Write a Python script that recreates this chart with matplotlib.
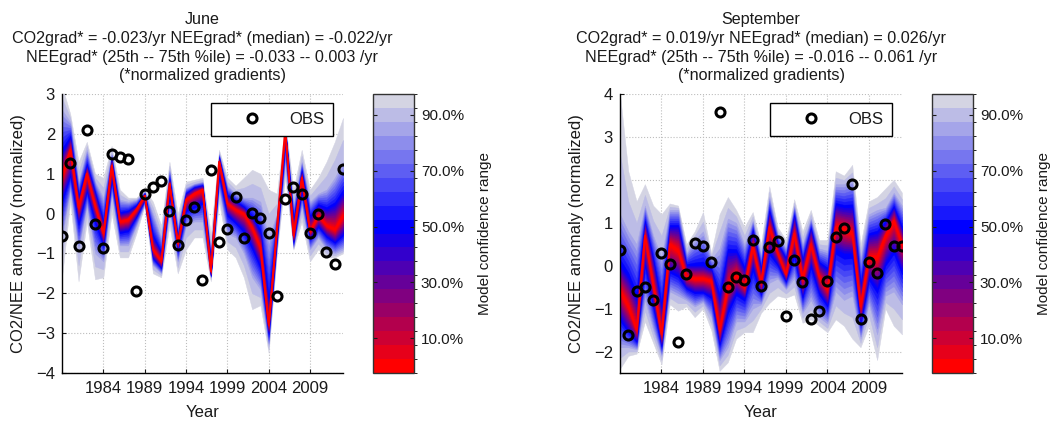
import numpy as np
import matplotlib
matplotlib.use('Agg')
import matplotlib.pyplot as plt
from matplotlib.colors import ListedColormap, BoundaryNorm
from matplotlib.cm import ScalarMappable

plt.rcParams['font.family'] = ['Liberation Sans', 'DejaVu Sans']

years = list(range(1979, 2014))
xticks = [1984, 1989, 1994, 1999, 2004, 2009]

# ---------------- June ----------------
jun_obs = [-0.56, 1.26, -0.81, 2.10, -0.27, -0.87, 1.49, 1.43, 1.38, -1.94, 0.48, 0.67, 0.82, 0.06,
           -0.79, -0.15, 0.17, -1.67, 1.09, -0.72, -0.38, 0.41, -0.62, 0.02, -0.10, -0.48, -2.06,
           0.36, 0.66, 0.49, -0.49, 0.00, -0.97, -1.27, 1.12]
jun_med = [0.95, 1.6, 0.15, 1.0, 0.2, -0.5, 1.2, -0.2, -0.15, 0.1, 0.45, -0.9, -1.2, 0.75, -0.75,
           0.35, 0.5, 0.6, -1.45, 1.3, 0.25, 0.1, 0.0, -0.35, -0.85, -2.8, -0.35, 2.1, -0.55, 0.9,
           -0.45, -0.05, -0.3, -0.4, -0.05]
jun_lo50 = [0.4, 1.0, -0.2, 0.6, -0.15, -0.75, 0.9, -0.45, -0.4, -0.05, 0.35, -1.1, -1.35, 0.5, -0.9,
            0.1, 0.2, 0.3, -1.55, 1.0, 0.0, -0.2, -0.4, -0.8, -1.3, -3.0, -0.6, 1.8, -0.7, 0.6,
            -0.6, -0.3, -0.55, -0.7, -0.5]
jun_hi50 = [1.5, 1.9, 0.4, 1.2, 0.5, -0.25, 1.35, 0.0, 0.05, 0.2, 0.5, -0.6, -1.0, 0.85, -0.6,
            0.5, 0.65, 0.7, -1.2, 1.4, 0.45, 0.3, 0.15, -0.1, -0.5, -2.3, -0.2, 2.15, -0.2, 1.05,
            -0.1, 0.2, 0.1, 0.2, 0.5]
jun_lo90 = [-0.6, 0.6, -0.9, 0.2, -1.0, -1.2, 0.5, -0.8, -0.8, -0.3, 0.25, -1.3, -1.5, 0.1, -1.2,
            -0.3, -0.2, -0.2, -1.6, 0.6, -0.5, -0.6, -1.0, -1.6, -1.9, -3.3, -0.85, 1.3, -0.85, 0.2,
            -0.9, -0.6, -0.9, -1.0, -0.9]
jun_hi90 = [2.6, 2.3, 0.8, 1.6, 0.8, 0.4, 1.5, 0.35, 0.3, 0.35, 0.55, 0.0, -0.6, 1.1, -0.3,
            0.65, 0.75, 0.8, -0.9, 1.5, 0.7, 0.5, 0.4, 0.4, 0.3, -0.6, 0.0, 2.2, 0.2, 1.3,
            0.3, 0.5, 0.6, 0.9, 1.3]
jun_lo100 = [-1.6, 0.3, -1.7, -0.2, -1.65, -1.6, 0.0, -1.1, -1.1, -0.5, 0.2, -1.5, -1.6, -0.3, -1.5,
             -0.9, -0.6, -0.6, -1.7, 0.3, -0.9, -1.1, -1.6, -2.4, -2.3, -3.5, -1.0, 0.9, -0.9, -0.2,
             -1.2, -0.9, -1.1, -1.1, -1.0]
jun_hi100 = [3.2, 2.5, 1.3, 1.8, 1.0, 0.9, 1.7, 0.6, 0.4, 0.4, 0.6, 0.3, -0.3, 1.3, 0.0,
             0.8, 0.85, 0.9, -0.5, 1.6, 0.9, 0.7, 0.9, 1.1, 1.0, 0.6, 0.5, 2.3, 0.6, 1.6,
             0.6, 0.9, 1.3, 1.8, 2.4]

# ---------------- September ----------------
sep_obs = [0.37, -1.61, -0.60, -0.50, -0.79, 0.29, 0.05, -1.77, -0.19, 0.53, 0.45, 0.09, 3.57, -0.50,
           -0.27, -0.33, 0.59, -0.48, 0.43, 0.57, -1.18, 0.14, -0.38, -1.24, -1.05, -0.35, 0.66,
           0.88, 1.90, -1.24, 0.09, -0.16, 0.97, 0.47, 0.47]
sep_med = [-0.6, -0.95, -1.5, 0.7, -0.45, -1.6, 0.5, 0.35, -0.25, -0.3, -0.3, -0.35, -1.5, -0.5,
           -0.2, -0.5, 0.45, -0.4, 0.9, 0.3, -0.2, 0.75, -0.3, 0.5, -0.25, -0.55, 0.9, 0.85, 0.75,
           -0.95, 0.2, 0.2, 0.7, 1.05, 0.5]
sep_lo50 = [-1.2, -1.5, -1.75, 0.1, -0.9, -1.85, -0.1, -0.2, -0.5, -0.6, -0.6, -0.7, -1.8, -1.0,
            -0.6, -0.75, 0.0, -0.65, 0.35, 0.05, -0.35, 0.3, -0.7, 0.05, -0.6, -0.9, 0.4, 0.3, 0.3,
            -1.3, -0.25, -0.5, 0.1, 0.4, -0.1]
sep_hi50 = [0.0, -0.3, -0.8, 1.0, 0.1, -1.0, 0.9, 0.9, 0.0, 0.0, 0.0, -0.1, -0.8, 0.3,
            0.3, -0.1, 0.8, -0.1, 1.25, 0.5, 0.15, 1.15, 0.1, 0.85, 0.05, -0.1, 1.4, 1.35, 1.35,
            -0.5, 0.7, 0.75, 1.0, 1.35, 0.85]
sep_lo90 = [-1.9, -1.9, -1.95, -0.8, -1.5, -2.1, -0.6, -0.7, -0.8, -0.95, -0.85, -1.2, -2.2, -1.9,
            -1.3, -1.3, -1.0, -0.9, -0.4, -0.3, -0.55, -0.3, -1.1, -0.8, -1.2, -1.35, -0.6, -0.8, -0.7,
            -1.7, -0.9, -1.6, -0.7, -0.6, -0.9]
sep_hi90 = [1.2, 0.8, 0.5, 1.4, 0.7, 0.2, 1.3, 1.3, 0.3, 0.6, 0.8, 0.15, 0.4, 1.1,
            1.0, 0.5, 1.05, 0.25, 1.6, 0.75, 0.4, 1.4, 0.5, 1.1, 0.4, 0.35, 1.9, 1.9, 2.0,
            0.2, 1.2, 1.3, 1.35, 1.7, 1.4]
sep_lo100 = [-2.4, -2.1, -2.05, -1.3, -1.8, -2.3, -0.9, -1.05, -0.95, -1.2, -1.0, -1.5, -2.45, -2.25,
             -1.7, -1.55, -1.55, -1.1, -0.87, -0.7, -0.75, -0.67, -1.33, -1.25, -1.4, -1.55, -1.25,
             -1.4, -1.7, -1.9, -1.4, -2.2, -1.0, -1.4, -1.6]
sep_hi100 = [4.0, 2.2, 1.5, 1.9, 1.4, 1.2, 1.45, 1.4, 0.5, 0.8, 1.25, 0.3, 1.2, 1.6,
             1.3, 0.9, 1.25, 0.5, 1.85, 0.9, 0.6, 1.55, 0.8, 1.3, 0.6, 0.6, 2.2, 2.1, 2.35,
             0.5, 1.5, 1.6, 1.8, 2.0, 1.7]

panels = [
    dict(title="June\nCO2grad* = -0.023/yr NEEgrad* (median) = -0.022/yr\n"
               "NEEgrad* (25th -- 75th %ile) = -0.033 -- 0.003 /yr\n(*normalized gradients)",
         obs=jun_obs, med=jun_med, lo50=jun_lo50, hi50=jun_hi50, lo90=jun_lo90, hi90=jun_hi90,
         lo100=jun_lo100, hi100=jun_hi100, ylim=(-4, 3), yticks=list(range(-4, 4))),
    dict(title="September\nCO2grad* = 0.019/yr NEEgrad* (median) = 0.026/yr\n"
               "NEEgrad* (25th -- 75th %ile) = -0.016 -- 0.061 /yr\n(*normalized gradients)",
         obs=sep_obs, med=sep_med, lo50=sep_lo50, hi50=sep_hi50, lo90=sep_lo90, hi90=sep_hi90,
         lo100=sep_lo100, hi100=sep_hi100, ylim=(-2.5, 4), yticks=list(range(-2, 5))),
]

# colour levels for the confidence range (0%, 5%, ..., 95%)
level_values = np.arange(0, 100, 5)
red = np.array([1.0, 0.0, 0.0])
blue = np.array([0.0, 0.0, 1.0])
grey = np.array([0.83, 0.83, 0.89])
colors = []
for v in level_values:
    if v <= 50:
        t = v / 50.0
        colors.append(tuple((1 - t) * red + t * blue))
    else:
        t = (v - 50) / 45.0
        colors.append(tuple((1 - t) * blue + t * grey))
cmap = ListedColormap(colors)
norm = BoundaryNorm(np.arange(-2.5, 100, 5), cmap.N)

anchor_levels = [0, 50, 90, 100]

fig = plt.figure(figsize=(10.56, 4.28), dpi=100)
ax_rects = [(62, 94, 343, 373), (620, 94, 902, 373)]
cb_rects = [(373, 94, 414, 373), (932, 94, 973, 373)]
W, H = 1056.0, 428.0
txtc = '#1a1a1a'

for p, (x0, y0, x1, y1), (cx0, cy0, cx1, cy1) in zip(panels, ax_rects, cb_rects):
    ax = fig.add_axes([x0 / W, 1 - y1 / H, (x1 - x0) / W, (y1 - y0) / H])
    lows = np.array([p['med'], p['lo50'], p['lo90'], p['lo100']])
    highs = np.array([p['med'], p['hi50'], p['hi90'], p['hi100']])
    for k in range(len(level_values) - 1, -1, -1):
        lev = level_values[k] + 5
        lo = [np.interp(lev, anchor_levels, lows[:, i]) for i in range(len(years))]
        hi = [np.interp(lev, anchor_levels, highs[:, i]) for i in range(len(years))]
        ax.fill_between(years, lo, hi, color=colors[k], lw=0.3, edgecolor=colors[k], zorder=2)
    ax.plot(years, p['med'], color=(1, 0, 0), lw=1.3, zorder=3)
    ax.plot(years, p['obs'], linestyle='none', marker='o', ms=6.5, mew=2.2, mec='black',
            mfc='none', label='OBS', zorder=5)
    ax.set_xlim(1979, 2013)
    ax.set_ylim(*p['ylim'])
    ax.set_xticks(xticks)
    ax.set_yticks(p['yticks'])
    ax.grid(True, linestyle=':', color='#bdbdbd', lw=0.8)
    ax.set_axisbelow(True)
    for s in ['top', 'right']:
        ax.spines[s].set_visible(False)
    for s in ['left', 'bottom']:
        ax.spines[s].set_linewidth(1.0)
        ax.spines[s].set_zorder(6)
    ax.tick_params(direction='in', length=3, labelsize=12, colors=txtc)
    ax.tick_params(axis='x', pad=6)
    ax.tick_params(axis='y', pad=5)
    ax.set_xlabel('Year', fontsize=12, color=txtc, labelpad=6)
    ax.set_ylabel('CO2/NEE anomaly (normalized)', fontsize=12, color=txtc, labelpad=7)
    ax.set_title(p['title'], fontsize=11.6, color=txtc, linespacing=1.3, pad=10)
    leg = ax.legend(loc='upper right', bbox_to_anchor=((333 - 62) / 281.0, (373 - 103) / 279.0),
                    frameon=True, fancybox=False, framealpha=1, edgecolor='black',
                    borderpad=0.55, handlelength=3.8, handletextpad=0.3, fontsize=12,
                    numpoints=1, borderaxespad=0)
    leg.get_frame().set_linewidth(1.0)
    leg.set_zorder(7)
    for t in leg.get_texts():
        t.set_color(txtc)

    cax = fig.add_axes([cx0 / W, 1 - cy1 / H, (cx1 - cx0) / W, (cy1 - cy0) / H])
    cb = fig.colorbar(ScalarMappable(norm=norm, cmap=cmap), cax=cax,
                      ticks=[10, 30, 50, 70, 90], format='%.1f%%')
    cb.outline.set_linewidth(1.0)
    cb.outline.set_edgecolor('#333333')
    cax.tick_params(direction='in', left=True, right=True, length=3, labelsize=11,
                    colors=txtc, pad=5)
    cb.set_label('Model confidence range', fontsize=11, color=txtc, labelpad=10)

fig.savefig('out.png', dpi=100)
